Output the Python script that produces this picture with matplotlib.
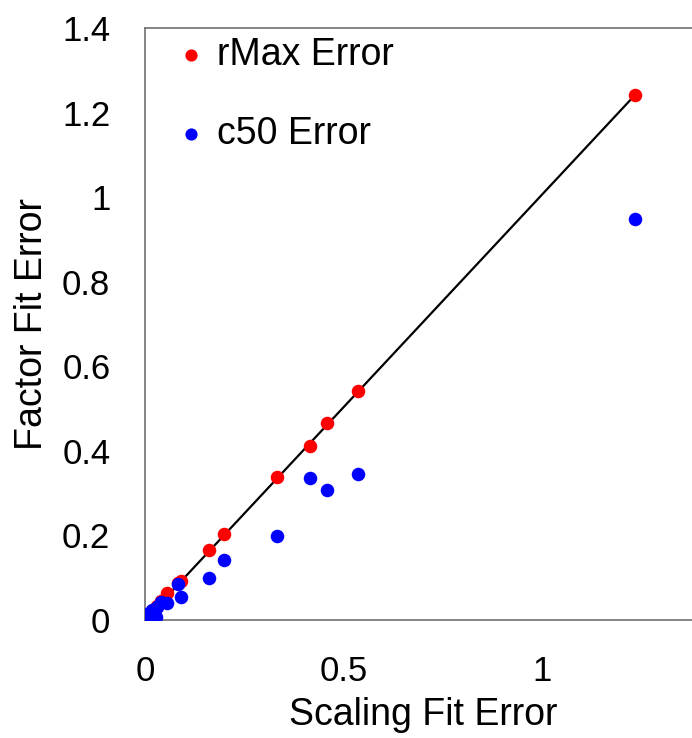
import numpy as np
import matplotlib
matplotlib.use("Agg")
import matplotlib.pyplot as plt

plt.rcParams['font.family'] = ['Liberation Sans', 'DejaVu Sans']

# scaling fit error (x) against factor fit error (y)
scaling_err = [0.0, 0.006, 0.018, 0.027, 0.031, 0.040, 0.056, 0.084, 0.090,
               0.161, 0.199, 0.333, 0.416, 0.458, 0.537, 1.234]
rmax_err = [0.003, 0.012, 0.022, 0.028, 0.032, 0.045, 0.063, 0.088, 0.093,
            0.166, 0.204, 0.339, 0.411, 0.465, 0.541, 1.241]
c50_err = [0.006, 0.014, 0.024, 0.008, 0.031, 0.043, 0.041, 0.085, 0.054,
           0.100, 0.142, 0.199, 0.335, 0.307, 0.344, 0.948]

xticks = [0, 0.5, 1]
xticklabels = ["0", "0.5", "1"]
yticks = [0, 0.2, 0.4, 0.6, 0.8, 1.0, 1.2, 1.4]
yticklabels = ["0", "0.2", "0.4", "0.6", "0.8", "1", "1.2", "1.4"]

fig = plt.figure(figsize=(6.92, 7.38), dpi=100)
ax = fig.add_axes([0.2095, 0.16, 0.803, 0.802])

# trend line through the rMax points
ax.plot([0, max(scaling_err)], [0, max(rmax_err)], color='black', lw=1.6, zorder=1)
ax.scatter(scaling_err, rmax_err, s=95, color='#ff0000', label='rMax Error', zorder=2, linewidths=0)
ax.scatter(scaling_err, c50_err, s=95, color='#0000ff', label='c50 Error', zorder=3, linewidths=0)

ax.set_xlim(0, 1.4)
ax.set_ylim(0, 1.4)
ax.set_xticks(xticks)
ax.set_xticklabels(xticklabels)
ax.set_yticks(yticks)
ax.set_yticklabels(yticklabels)
ax.tick_params(length=0, labelsize=25)
ax.tick_params(axis='y', pad=25)
ax.tick_params(axis='x', pad=25)

for sp in ax.spines.values():
    sp.set_color('#707070')
    sp.set_linewidth(1.2)
ax.spines['right'].set_visible(False)

ax.set_xlabel('Scaling Fit Error', fontsize=27, labelpad=7)
ax.set_ylabel('Factor Fit Error', fontsize=27, labelpad=9)

ax.legend(loc='upper left', bbox_to_anchor=(0.0225, 1.01), frameon=False, fontsize=27,
          handlelength=1.0, handletextpad=0.2, labelspacing=1.15, borderaxespad=0,
          scatterpoints=1, markerscale=0.9)

fig.savefig('out.png', dpi=100)
